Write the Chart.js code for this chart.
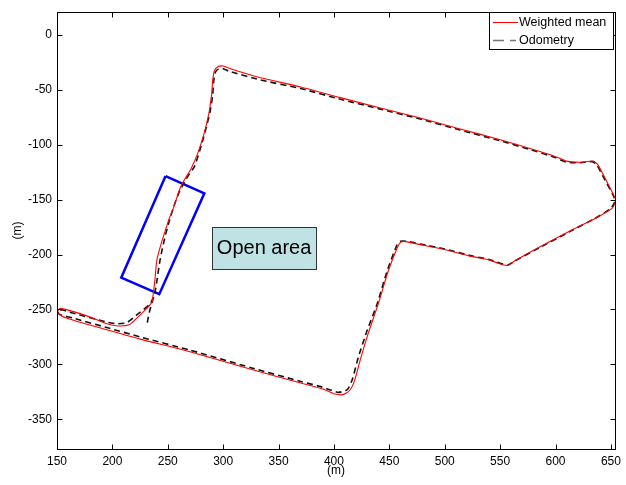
<!DOCTYPE html>
<html>
<head>
<meta charset="utf-8">
<script src="https://cdn.jsdelivr.net/npm/chart.js@4.4.0/dist/chart.umd.min.js"></script>
<style>
  html, body { margin: 0; padding: 0; background: #fff; }
  #wrap { width: 626px; height: 485px; }
</style>
</head>
<body>
<div id="wrap"><canvas id="trackChart" width="626" height="485"></canvas></div>
<script>
// Trajectoires (m)
const meanX = [236, 237, 238.5, 240, 243.5, 247.5, 251, 255, 261, 265, 271, 277, 282.5, 287, 289.5, 290.5, 292, 295.5, 300, 308,
  333, 370, 405, 441, 477, 513, 550, 577, 599, 610, 622, 634, 638, 645, 652, 654.5, 651, 636, 616, 586,
  563, 557, 550, 540, 523, 500, 478, 466, 461, 458, 449, 440, 431.5, 424, 418.5, 414, 408, 401, 394, 387,
  370, 325, 270, 225, 195, 170, 155, 150.5, 153, 165, 180, 195, 205, 215, 224, 233, 236];
const meanY = [-243, -235, -222, -206, -192, -179, -168, -158, -140, -132, -122, -108, -91, -72, -55, -42, -33, -29, -28.5, -31.5,
  -39, -47.5, -57, -66.5, -75.5, -85.5, -95.5, -103.5, -110.5, -115, -116, -115, -118, -131, -145, -151, -158, -167, -177, -193,
  -206, -210, -208.5, -205, -201.5, -195.5, -191, -188.5, -188.5, -192, -215, -245, -270, -295, -315, -324, -327.5, -327, -324, -321.5,
  -317, -304.5, -288.5, -277, -268.5, -261.5, -256.5, -252, -249, -252, -257, -263, -265, -264, -256, -247, -243];

const odoX = [231.5, 233.5, 236, 238.5, 240.5, 242.5, 245, 248, 251.5, 255.5, 259.5, 264, 268, 274, 279, 283.5, 288, 290.5, 291.5, 293,
  296, 300, 306, 333, 370, 405, 441, 477, 513, 550, 577, 599, 610, 622, 633, 637, 644.5, 652, 654, 650,
  635, 616, 586, 563, 557, 550, 540, 523, 500, 478, 466, 460, 457, 448, 439, 430, 422, 416.5, 412, 404,
  396, 387, 370, 325, 270, 225, 195, 165, 152, 150.5, 155, 165, 195, 204, 213, 222, 234, 237.5];
const odoY = [-262, -252, -243, -234, -222, -208, -195, -182, -169, -156, -145, -136, -129, -120, -105, -89, -71, -55, -42, -34,
  -31, -31, -33.5, -41, -49, -58.5, -67.5, -76.5, -86.5, -96.5, -104.5, -111.5, -116, -116.5, -115.5, -118, -132, -146, -151, -158,
  -167.5, -177.5, -193.5, -206, -209.5, -208, -204.5, -201, -195, -190.5, -188, -188, -191, -215, -245, -269, -293.5, -314, -323, -325.5,
  -323, -320, -315.5, -303, -287, -275, -266.5, -258, -254.5, -251, -250.5, -253.5, -261.5, -263, -262, -255, -245, -238];

// zone encadrée en bleu
const zoneX = [248, 283, 242.3, 208, 248];
const zoneY = [-128.6, -144.3, -236.1, -221.1, -128.6];

const xTicks = [150, 200, 250, 300, 350, 400, 450, 500, 550, 600, 650];
const yTicks = [-350, -300, -250, -200, -150, -100, -50, 0];
const seriesLabels = ['Weighted mean', 'Odometry'];
const noteText = 'Open area';
const axisTitle = '(m)';

const toPoints = (xs, ys) => xs.map((x, i) => ({ x: x, y: ys[i] }));

const FONT = '"Liberation Sans", Arial, sans-serif';

// cadre, graduations, titres, note et légende façon MATLAB
const matlabFrame = {
    id: 'matlabFrame',
    afterDraw(chart) {
        const ctx = chart.ctx;
        const a = chart.chartArea;
        const sx = chart.scales.x;
        const sy = chart.scales.y;
        ctx.save();

        // encadré "Open area"
        const nx = sx.getPixelForValue(290);
        const ny = sy.getPixelForValue(-175.3);
        ctx.fillStyle = '#bfe2e4';
        ctx.fillRect(nx, ny, 104, 42);
        ctx.strokeStyle = '#333';
        ctx.lineWidth = 1;
        ctx.strokeRect(Math.round(nx) + 0.5, Math.round(ny) + 0.5, 104, 42);
        ctx.fillStyle = '#000';
        ctx.font = '20px ' + FONT;
        ctx.textAlign = 'center';
        ctx.textBaseline = 'middle';
        ctx.fillText(noteText, nx + 52, ny + 21);

        // cadre
        ctx.strokeStyle = '#000';
        ctx.lineWidth = 1;
        const L = Math.round(a.left) + 0.5, R = Math.round(a.right) + 0.5;
        const T = Math.round(a.top) + 0.5, B = Math.round(a.bottom) + 0.5;
        ctx.strokeRect(L, T, R - L, B - T);

        // graduations intérieures
        ctx.beginPath();
        xTicks.forEach(v => {
            const p = Math.round(sx.getPixelForValue(v)) + 0.5;
            ctx.moveTo(p, B); ctx.lineTo(p, B - 5);
            ctx.moveTo(p, T); ctx.lineTo(p, T + 5);
        });
        yTicks.forEach(v => {
            const p = Math.round(sy.getPixelForValue(v)) + 0.5;
            ctx.moveTo(L, p); ctx.lineTo(L + 5, p);
            ctx.moveTo(R, p); ctx.lineTo(R - 5, p);
        });
        ctx.stroke();

        // titres des axes
        ctx.fillStyle = '#000';
        ctx.font = '12px ' + FONT;
        ctx.textAlign = 'center';
        ctx.textBaseline = 'middle';
        ctx.fillText(axisTitle, (a.left + a.right) / 2, 471);
        ctx.save();
        ctx.translate(18, (a.top + a.bottom) / 2);
        ctx.rotate(-Math.PI / 2);
        ctx.fillText(axisTitle, 0, 0);
        ctx.restore();

        // légende
        const lx = 489.5, ly = 12.5, lw = 124, lh = 37;
        ctx.fillStyle = '#fff';
        ctx.fillRect(lx, ly, lw, lh);
        ctx.strokeStyle = '#000';
        ctx.strokeRect(lx, ly, lw, lh);
        ctx.font = '12.5px ' + FONT;
        ctx.textAlign = 'left';
        ctx.textBaseline = 'middle';
        const rows = [22.5, 40.5];
        chart.data.datasets.slice(0, 2).forEach((ds, i) => {
            ctx.beginPath();
            ctx.strokeStyle = i === 0 ? ds.borderColor : '#777';
            ctx.lineWidth = i === 0 ? 1 : 1.5;
            ctx.setLineDash(i === 0 ? [] : [11, 6]);
            ctx.moveTo(493, rows[i]);
            ctx.lineTo(i === 0 ? 518 : 516, rows[i]);
            ctx.stroke();
            ctx.setLineDash([]);
            ctx.fillStyle = '#000';
            ctx.fillText(ds.label, 519, rows[i] + 0.5);
        });

        ctx.restore();
    }
};

const ctx = document.getElementById('trackChart').getContext('2d');

new Chart(ctx, {
    type: 'scatter',
    data: {
        datasets: [{
            label: seriesLabels[0],
            data: toPoints(meanX, meanY),
            showLine: true,
            borderColor: '#ff0000',
            borderWidth: 1.1,
            pointRadius: 0,
            tension: 0.2
        }, {
            label: seriesLabels[1],
            data: toPoints(odoX, odoY),
            showLine: true,
            borderColor: '#111',
            borderWidth: 1.6,
            borderDash: [6, 4],
            pointRadius: 0,
            tension: 0.2
        }, {
            label: 'zone',
            data: toPoints(zoneX, zoneY),
            showLine: true,
            borderColor: '#0000ff',
            borderWidth: 2.5,
            pointRadius: 0,
            tension: 0
        }]
    },
    options: {
        responsive: false,
        animation: false,
        devicePixelRatio: 1,
        layout: {
            padding: { left: 0, right: 11, top: 9, bottom: 0 }
        },
        plugins: {
            legend: { display: false },
            tooltip: { enabled: false }
        },
        scales: {
            x: {
                type: 'linear',
                min: 150,
                max: 653.6,
                grid: { display: false, drawTicks: false },
                border: { display: false },
                afterFit(s) { s.height = 36; },
                afterBuildTicks(s) { s.ticks = xTicks.map(v => ({ value: v })); },
                ticks: {
                    padding: 5,
                    color: '#000',
                    font: { family: FONT, size: 12 },
                    callback: v => String(v)
                }
            },
            y: {
                type: 'linear',
                min: -377,
                max: 20.5,
                grid: { display: false, drawTicks: false },
                border: { display: false },
                afterFit(s) { s.width = 57; },
                afterBuildTicks(s) { s.ticks = yTicks.map(v => ({ value: v })); },
                ticks: {
                    padding: 5,
                    color: '#000',
                    font: { family: FONT, size: 12 },
                    callback: v => String(v)
                }
            }
        }
    },
    plugins: [matlabFrame]
});
</script>
</body>
</html>
